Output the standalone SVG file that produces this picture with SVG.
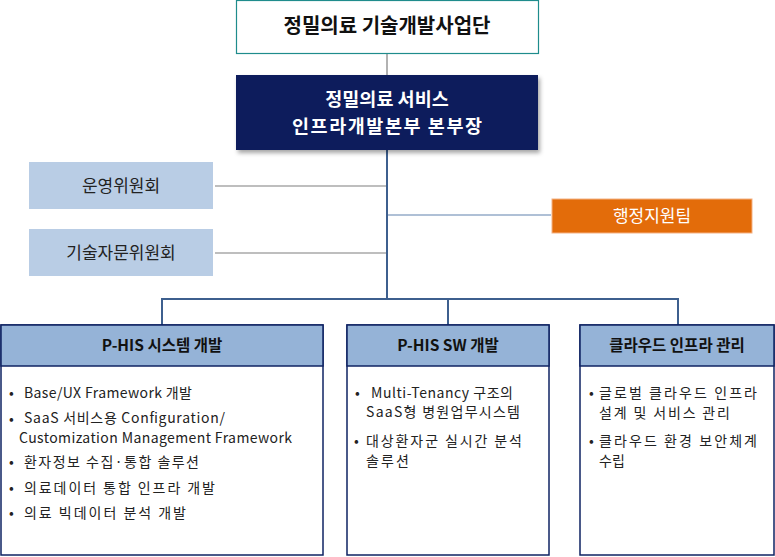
<svg xmlns="http://www.w3.org/2000/svg" width="775" height="557" viewBox="0 0 775 557">
<style>
text{font-family:"Noto Sans CJK KR","Noto Sans",sans-serif;}
.h{font-size:15.5px;font-weight:bold;fill:#111;text-anchor:middle;}
.b{font-size:14px;fill:#222;}
.c{font-size:17px;fill:#222;text-anchor:middle;}
.box{fill:#fff;stroke:#0f2363;stroke-width:1.5;}
.hd{fill:#95b3d7;stroke:#0f2363;stroke-width:1.5;}
</style>
<defs>
<filter id="sh" x="-5%" y="-10%" width="115%" height="130%">
<feDropShadow dx="2" dy="3" stdDeviation="2" flood-color="#000" flood-opacity="0.35"/>
</filter>
</defs>
<g id="connectors" fill="none">
<line x1="387" y1="53" x2="387" y2="75" stroke="#7f7f7f" stroke-width="1.2"/>
<line x1="215" y1="186" x2="387" y2="186" stroke="#7f7f7f" stroke-width="1.2"/>
<line x1="215" y1="253" x2="387" y2="253" stroke="#7f7f7f" stroke-width="1.2"/>
<line x1="387" y1="215" x2="551" y2="215" stroke="#95abc8" stroke-width="1.5"/>
<line x1="387" y1="150" x2="387" y2="300" stroke="#3d5f8e" stroke-width="2"/>
<polyline points="162,325 162,299 678,299 678,325" stroke="#3d5f8e" stroke-width="2"/>
<line x1="448" y1="299" x2="448" y2="325" stroke="#3d5f8e" stroke-width="2"/>
</g>
<g id="top">
<rect x="236.5" y="0.5" width="302" height="53" fill="#fff" stroke="#1f8c8c" stroke-width="1.2"/>
<text x="387" y="33" font-size="20" font-weight="bold" fill="#111" text-anchor="middle">정밀의료 기술개발사업단</text>
</g>
<g id="head">
<rect x="236" y="75" width="302" height="75" fill="#0f1f5c" filter="url(#sh)"/>
<text x="387" y="106" font-size="18.5" font-weight="bold" fill="#fff" text-anchor="middle">정밀의료 서비스</text>
<text x="387" y="133" font-size="18.5" font-weight="bold" fill="#fff" text-anchor="middle" textLength="190">인프라개발본부 본부장</text>
</g>
<g id="committee1">
<rect x="29" y="162" width="184" height="47" fill="#b9cde5"/>
<text x="121" y="192" class="c">운영위원회</text>
</g>
<g id="committee2">
<rect x="29" y="229" width="184" height="47" fill="#b9cde5"/>
<text x="121" y="259" class="c">기술자문위원회</text>
</g>
<g id="admin">
<rect x="552" y="199" width="200" height="34" fill="#e36c0a" stroke="#f4b183" stroke-width="1"/>
<text x="652" y="222" font-size="17" fill="#fff" text-anchor="middle">행정지원팀</text>
</g>
<g id="phis-system">
<rect x="1" y="325" width="322" height="230" class="box"/>
<rect x="1" y="325" width="322" height="41" class="hd"/>
<text x="162" y="351" class="h">P-HIS 시스템 개발</text>
<text x="9" y="398" class="b">•</text>
<text x="24" y="398" class="b" textLength="168">Base/UX Framework 개발</text>
<text x="9" y="424" class="b">•</text>
<text x="24" y="423" class="b" textLength="201">SaaS 서비스용 Configuration/</text>
<text x="19" y="443" class="b" textLength="273">Customization Management  Framework</text>
<text x="9" y="467" class="b">•</text>
<text x="24" y="467" class="b" textLength="175">환자정보 수집·통합 솔루션</text>
<text x="9" y="493" class="b">•</text>
<text x="24" y="493" class="b" textLength="191">의료데이터 통합 인프라 개발</text>
<text x="9" y="518" class="b">•</text>
<text x="24" y="518" class="b" textLength="162">의료 빅데이터 분석 개발</text>
</g>
<g id="phis-sw">
<rect x="347" y="325" width="202" height="230" class="box"/>
<rect x="347" y="325" width="202" height="41" class="hd"/>
<text x="448" y="351" class="h">P-HIS SW 개발</text>
<text x="355" y="398" class="b">•</text>
<text x="371" y="398" class="b" textLength="142">Multi-Tenancy 구조의</text>
<text x="366" y="417" class="b" textLength="154">SaaS형 병원업무시스템</text>
<text x="354" y="446" class="b">•</text>
<text x="366" y="446" class="b" textLength="156">대상환자군 실시간 분석</text>
<text x="366" y="466" class="b" textLength="43">솔루션</text>
</g>
<g id="cloud">
<rect x="580" y="325" width="194" height="230" class="box"/>
<rect x="580" y="325" width="194" height="41" class="hd"/>
<text x="677" y="351" class="h">클라우드 인프라 관리</text>
<text x="589" y="398" class="b">•</text>
<text x="599" y="398" class="b" textLength="158">글로벌 클라우드 인프라</text>
<text x="599" y="418" class="b" textLength="131">설계 및 서비스 관리</text>
<text x="589" y="446" class="b">•</text>
<text x="599" y="446" class="b" textLength="158">클라우드 환경 보안체계</text>
<text x="599" y="466" class="b" textLength="26">수립</text>
</g>
</svg>
